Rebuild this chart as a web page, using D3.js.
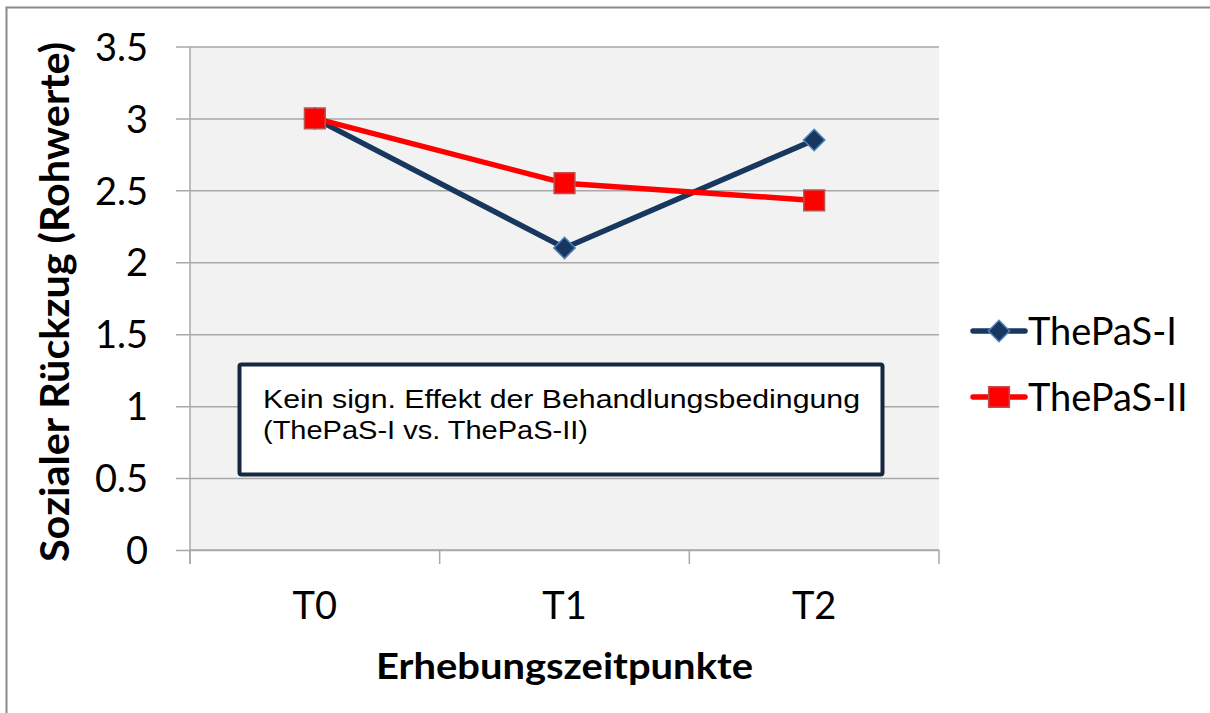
<!DOCTYPE html>
<html lang="de">
<head>
    <meta charset="UTF-8">
    <title>Sozialer Rückzug - ThePaS</title>
    <script src="https://cdnjs.cloudflare.com/ajax/libs/d3/7.8.5/d3.min.js"></script>
    <style>
        body { margin: 0; padding: 0; background: #fff; }
        svg { display: block; }
        .tick-label { font-family: Lato, 'Open Sans', sans-serif; font-size: 38px; fill: #000; }
        .axis-title { font-family: Lato, 'Open Sans', sans-serif; font-weight: bold; fill: #000; }
        .note { font-family: 'Liberation Sans', Arial, sans-serif; font-size: 25px; fill: #000; }
    </style>
</head>
<body>
    <div id="chart"></div>
    <script>
        // Daten
        const zeitpunkte = ["T0", "T1", "T2"];
        const thepas1 = [3.0, 2.1, 2.85];
        const thepas2 = [3.0, 2.55, 2.43];
        const yTicks = [0, 0.5, 1, 1.5, 2, 2.5, 3, 3.5];
        const serien = [
            { name: "ThePaS-I", werte: thepas1, farbe: "#17375E", marker: "diamond" },
            { name: "ThePaS-II", werte: thepas2, farbe: "#FF0000", marker: "square" }
        ];

        const width = 1210, height = 713;
        const plot = { left: 190, right: 939, top: 46.5, bottom: 550 };

        const svg = d3.select("#chart").append("svg")
            .attr("width", width)
            .attr("height", height);

        // Rahmen
        svg.append("rect")
            .attr("x", 6.5).attr("y", 7.5)
            .attr("width", 1230).attr("height", 740)
            .attr("fill", "#fff")
            .attr("stroke", "#8a8a8a")
            .attr("stroke-width", 2);

        const x = d3.scaleBand().domain(zeitpunkte).range([plot.left, plot.right]);
        const y = d3.scaleLinear().domain([0, 3.5]).range([plot.bottom, plot.top]);

        svg.append("rect")
            .attr("x", plot.left).attr("y", plot.top)
            .attr("width", plot.right - plot.left)
            .attr("height", plot.bottom - plot.top)
            .attr("fill", "#f2f2f2");

        // Gitterlinien + y-Achse
        const yAxis = d3.axisLeft(y)
            .tickValues(yTicks)
            .tickSize(-(plot.right - plot.left) - 14)
            .tickPadding(30)
            .tickFormat(d3.format("~g"));

        const gy = svg.append("g")
            .attr("transform", `translate(${plot.right},0)`)
            .call(yAxis);
        gy.select(".domain").remove();
        gy.selectAll(".tick line")
            .attr("x1", plot.left - plot.right - 14)
            .attr("x2", 0)
            .attr("stroke", "#a8a8a8")
            .attr("stroke-width", 1.5);
        gy.selectAll(".tick text")
            .attr("class", "tick-label")
            .attr("x", plot.left - plot.right - 42)
            .attr("dy", "0.36em");

        svg.append("line")
            .attr("x1", plot.left).attr("x2", plot.left)
            .attr("y1", plot.top).attr("y2", plot.bottom + 14)
            .attr("stroke", "#a8a8a8").attr("stroke-width", 1.5);

        // x-Achse
        const xAxis = d3.axisBottom(x).tickSize(0).tickPadding(0);
        const gx = svg.append("g")
            .attr("transform", `translate(0,${plot.bottom})`)
            .call(xAxis);
        gx.select(".domain").remove();
        gx.selectAll(".tick text")
            .attr("class", "tick-label")
            .attr("y", 69)
            .attr("dy", 0);

        const grenzen = zeitpunkte.map(d => x(d)).concat([plot.right]);
        svg.append("g").selectAll("line")
            .data(grenzen)
            .enter().append("line")
            .attr("x1", d => d).attr("x2", d => d)
            .attr("y1", plot.bottom).attr("y2", plot.bottom + 14)
            .attr("stroke", "#a8a8a8").attr("stroke-width", 1.5);
        svg.append("line")
            .attr("x1", plot.left).attr("x2", plot.right)
            .attr("y1", plot.bottom).attr("y2", plot.bottom)
            .attr("stroke", "#a8a8a8").attr("stroke-width", 1.5);

        // Achsentitel
        svg.append("text")
            .attr("class", "axis-title")
            .attr("x", (plot.left + plot.right) / 2)
            .attr("y", 679)
            .attr("text-anchor", "middle")
            .attr("textLength", 377)
            .attr("lengthAdjust", "spacingAndGlyphs")
            .style("font-size", "37px")
            .text("Erhebungszeitpunkte");

        svg.append("text")
            .attr("class", "axis-title")
            .attr("transform", "translate(69,302) rotate(-90)")
            .attr("text-anchor", "middle")
            .attr("textLength", 520)
            .attr("lengthAdjust", "spacingAndGlyphs")
            .style("font-size", "40px")
            .text("Sozialer Rückzug (Rohwerte)");

        // Linien
        const linie = d3.line()
            .x((d, i) => x(zeitpunkte[i]) + x.bandwidth() / 2)
            .y(d => y(d));

        const symbole = {
            diamond: d3.symbol().type(d3.symbolDiamond2).size(290),
            square: d3.symbol().type(d3.symbolSquare).size(430)
        };

        function markerStil(sel, s) {
            if (s.marker === "diamond") {
                sel.attr("fill", s.farbe).attr("stroke", "#4F81BD").attr("stroke-width", 1.5);
            } else {
                sel.attr("fill", s.farbe).attr("stroke", "#C0504D").attr("stroke-width", 1.5);
            }
        }

        serien.forEach(s => {
            const g = svg.append("g");
            g.append("path")
                .datum(s.werte)
                .attr("d", linie)
                .attr("fill", "none")
                .attr("stroke", s.farbe)
                .attr("stroke-width", 5.5)
                .attr("stroke-linejoin", "round");
            g.selectAll("path.pt")
                .data(s.werte)
                .enter().append("path")
                .attr("class", "pt")
                .attr("d", symbole[s.marker])
                .attr("transform", (d, i) => `translate(${x(zeitpunkte[i]) + x.bandwidth() / 2},${y(d)})`)
                .call(markerStil, s);
        });

        // Textfeld
        const box = svg.append("g");
        box.append("rect")
            .attr("x", 239.5).attr("y", 364.5)
            .attr("width", 643).attr("height", 110)
            .attr("fill", "#fff")
            .attr("stroke", "#17273f")
            .attr("stroke-width", 4)
            .attr("rx", 2);
        box.append("text")
            .attr("class", "note")
            .attr("x", 263).attr("y", 408)
            .attr("textLength", 597)
            .attr("lengthAdjust", "spacingAndGlyphs")
            .text("Kein sign. Effekt der Behandlungsbedingung");
        box.append("text")
            .attr("class", "note")
            .attr("x", 263).attr("y", 439)
            .attr("textLength", 325)
            .attr("lengthAdjust", "spacingAndGlyphs")
            .text("(ThePaS-I vs. ThePaS-II)");

        // Legende
        const legende = svg.append("g")
            .selectAll("g")
            .data(serien)
            .enter().append("g")
            .attr("transform", (d, i) => `translate(973,${331 + i * 66})`);
        legende.append("line")
            .attr("x1", 0).attr("x2", 52)
            .attr("stroke", d => d.farbe)
            .attr("stroke-width", 5.5)
            .attr("stroke-linecap", "round");
        legende.append("path")
            .attr("d", d => symbole[d.marker]())
            .attr("transform", "translate(26,0)")
            .each(function(d) { d3.select(this).call(markerStil, d); });
        legende.append("text")
            .attr("class", "tick-label")
            .attr("x", 55)
            .attr("dy", "0.36em")
            .text(d => d.name);
    </script>
</body>
</html>
